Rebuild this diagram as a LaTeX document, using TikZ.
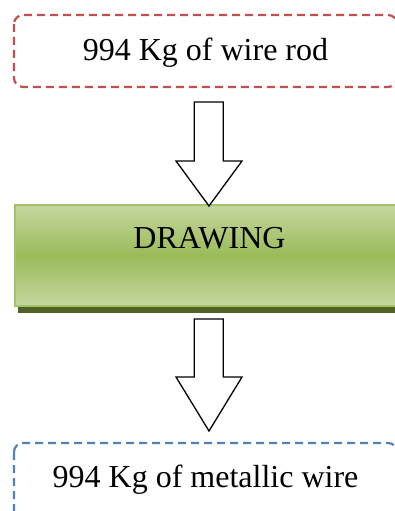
\documentclass[tikz,border=0pt]{standalone}
\usepackage{fontspec}
\setmainfont{Liberation Serif}
\definecolor{redd}{HTML}{C0504D}
\definecolor{blued}{HTML}{4F81BD}
\definecolor{glight}{HTML}{C4D79E}
\definecolor{gmid}{HTML}{9BBB59}
\definecolor{gborder}{HTML}{A3C266}
\definecolor{gshadow}{HTML}{4F6228}
\tikzset{
  dashbox/.style={line width=2.2pt, dash pattern=on 8pt off 5pt, rounded corners=9pt},
  lbl/.style={font=\fontsize{32}{38}\selectfont, anchor=base, inner sep=0pt},
  bigarrow/.style={draw=black, line width=1.3pt, fill=white, line join=miter}
}
\begin{document}
\begin{tikzpicture}[x=1pt,y=-1pt]
\useasboundingbox (0,0) rectangle (395,511);
\clip (0,0) rectangle (395,511);
% top box
\draw[dashbox, draw=redd] (14,15) rectangle (397,87);
\node[lbl] (top) at (205.5,60) {994 Kg of wire rod};
% green box
\fill[gshadow] (18,210) rectangle (410,313);
\shade[top color=glight, bottom color=glight, middle color=gmid] (15,205) rectangle (404,306);
\draw[gborder, line width=1.8pt] (15,205) rectangle (404,306);
\node[lbl] (mid) at (209.5,248) {DRAWING};
% arrows
\draw[bigarrow] (194.3,102) -- (223.3,102) -- (223.3,161) -- (242,161) -- (209,206) -- (176,161) -- (194.3,161) -- cycle;
\draw[bigarrow] (194.3,319) -- (223.3,319) -- (223.3,377) -- (242,377) -- (209,431) -- (176,377) -- (194.3,377) -- cycle;
% bottom box
\draw[dashbox, draw=blued] (14,443) rectangle (397,540);
\node[lbl] (bot) at (205.5,487) {994 Kg of metallic wire};
\end{tikzpicture}
\end{document}
